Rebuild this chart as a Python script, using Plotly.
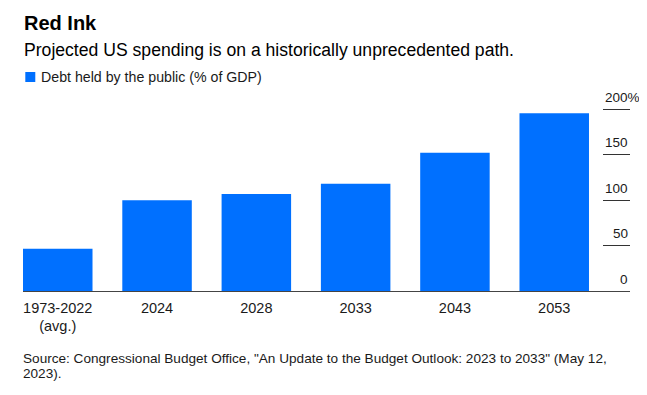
import plotly.graph_objects as go

categories = ["1973-2022<br>(avg.)", "2024", "2028", "2033", "2043", "2053"]
debt_pct_gdp = [46.5, 99.7, 106.6, 118.0, 152.0, 195.3]
y_tick_vals = [0, 50, 100, 150, 200]
y_tick_text = ["0", "50", "100", "150", "200%"]

title = "<b>Red Ink</b>"
subtitle = "Projected US spending is on a historically unprecedented path."
legend_label = "Debt held by the public (% of GDP)"
source_lines = ['Source: Congressional Budget Office, "An Update to the Budget Outlook: 2023 to 2033" (May 12,',
                '2023).']

BLUE = "#0070ff"
FONT = "Liberation Sans, Arial, sans-serif"
TXT = "#1a1a1a"

# page body adds an 8px margin, so the figure is sized/positioned to compensate
OFF = 8
W, H = 647 - OFF, 395 - OFF
ml, mr, mt, mb = 14.7, 17, 87, 104
pw, ph = W - ml - mr, H - mt - mb


def px(x):  # figure pixel -> paper x
    return (x - ml) / pw


def py(y):  # figure pixel -> paper y
    return (H - mb - y) / ph


fig = go.Figure()
fig.add_trace(go.Bar(x=categories, y=debt_pct_gdp, marker=dict(color=BLUE, line=dict(width=0)),
                     width=0.7, showlegend=False, hoverinfo="skip"))

annotations = [
    dict(text=title, x=px(23 - OFF - 1), y=py(23 - OFF), xanchor="left", yanchor="middle",
         font=dict(size=20, color="#000")),
    dict(text=subtitle, x=px(23 - OFF - 1), y=py(50 - OFF), xanchor="left", yanchor="middle",
         font=dict(size=17.6, color="#000")),
    dict(text=legend_label, x=px(40 - OFF - 1), y=py(77 - OFF), xanchor="left", yanchor="middle",
         font=dict(size=14.2, color=TXT)),
]
for i, line in enumerate(source_lines):
    annotations.append(dict(text=line, x=px(22 - OFF - 1), y=py(358 + 15 * i - OFF),
                            xanchor="left", yanchor="middle", align="left",
                            font=dict(size=13.6, color=TXT)))
for v, t in zip(y_tick_vals, y_tick_text):
    shift = 12 if t.endswith("%") else 0
    annotations.append(dict(text=t, x=1, y=v, yref="y", xanchor="right", yanchor="middle",
                            xshift=shift, yshift=12, font=dict(size=13.5, color=TXT)))
for a in annotations:
    a.setdefault("xref", "paper")
    a.setdefault("yref", "paper")
    a["showarrow"] = False

fig.update_layout(
    width=W, height=H,
    margin=dict(l=ml, r=mr, t=mt, b=mb, pad=0, autoexpand=False),
    paper_bgcolor="white", plot_bgcolor="white",
    font=dict(family=FONT, color=TXT, size=14),
    bargap=0.3,
    xaxis=dict(type="category", range=[-0.35, 5.763], showline=True, linecolor="#444", linewidth=1.3,
               showgrid=False, ticks="", tickfont=dict(size=14.5, color=TXT), ticklabelstandoff=3,
               fixedrange=True),
    yaxis=dict(side="right", range=[0, 215.4], showgrid=False, zeroline=False, showline=False,
               tickvals=y_tick_vals, showticklabels=False, ticks="inside", ticklen=27,
               tickcolor="#333", tickwidth=1.3, fixedrange=True),
    annotations=annotations,
)
fig.add_shape(type="rect", xref="paper", yref="paper",
              x0=px(25 - OFF), x1=px(35 - OFF), y0=py(72 - OFF), y1=py(82 - OFF),
              fillcolor=BLUE, line=dict(width=0))

fig.write_html("out.html")
